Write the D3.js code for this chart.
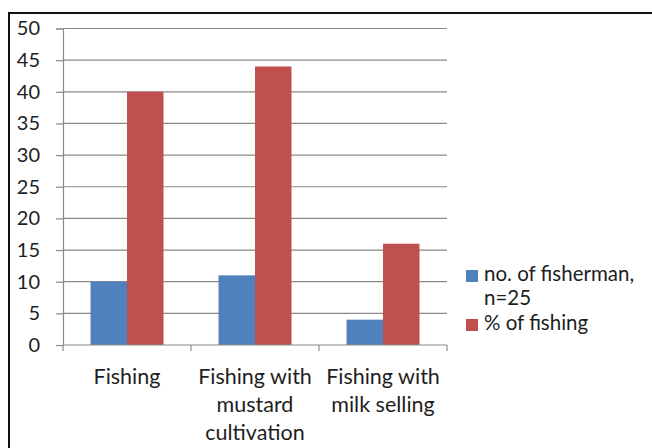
<!DOCTYPE html>
<html>
<head>
<meta charset="utf-8">
<script src="https://cdn.jsdelivr.net/npm/d3@7"></script>
<style>
  html, body { margin: 0; padding: 0; background: #fff; }
  svg { display: block; }
  text { font-family: Lato, "Open Sans", sans-serif; fill: #1e1e1e; }
</style>
</head>
<body>
<svg id="chart" width="652" height="448"></svg>
<script>
// Livelihood activities and values for each
const categories = [
  ["Fishing"],
  ["Fishing with", "mustard", "cultivation"],
  ["Fishing with", "milk selling"]
];
const seriesNames = [["no. of fisherman,", "n=25"], ["% of fishing"]];
const fishermen = [10, 11, 4];
const percentFishing = [40, 44, 16];
const yTicks = [0, 5, 10, 15, 20, 25, 30, 35, 40, 45, 50];
const colors = ["#4F81BD", "#C0504D"];

const svg = d3.select("#chart");

// Outer frame
svg.append("rect")
  .attr("x", 9).attr("y", 13)
  .attr("width", 652).attr("height", 448)
  .attr("fill", "none").attr("stroke", "#111").attr("stroke-width", 2);

const plot = { left: 63, right: 447, top: 28.5, bottom: 345 };

const y = d3.scaleLinear().domain([0, 50]).range([plot.bottom, plot.top]);
const x = d3.scaleBand()
  .domain(d3.range(categories.length))
  .range([plot.left, plot.right])
  .padding(0);
const inner = d3.scaleBand()
  .domain([0, 1])
  .range([x.bandwidth() * 0.215, x.bandwidth() * 0.785])
  .padding(0);

// Gridlines
svg.append("g")
  .selectAll("line")
  .data(yTicks.filter(d => d > 0))
  .join("line")
  .attr("x1", plot.left).attr("x2", plot.right)
  .attr("y1", d => y(d)).attr("y2", d => y(d))
  .attr("stroke", "#8a8a8a").attr("stroke-width", 1.2);

// Y axis
const yAxis = d3.axisLeft(y).tickValues(yTicks).tickSize(7).tickPadding(16);
const gy = svg.append("g").attr("transform", `translate(${plot.left},0)`).call(yAxis);
gy.select(".domain").attr("stroke", "#8a8a8a").attr("stroke-width", 1.2);
gy.selectAll(".tick line").attr("stroke", "#8a8a8a").attr("stroke-width", 1.2);
gy.selectAll(".tick text")
  .attr("font-size", 20).attr("font-family", "Lato, sans-serif").attr("fill", "#1e1e1e");

// Bars
const data = categories.map((c, i) => [fishermen[i], percentFishing[i]]);
const groups = svg.append("g").selectAll("g")
  .data(data)
  .join("g")
  .attr("transform", (d, i) => `translate(${x(i)},0)`);
groups.selectAll("rect")
  .data(d => d)
  .join("rect")
  .attr("x", (d, j) => inner(j))
  .attr("width", inner.bandwidth())
  .attr("y", d => y(d))
  .attr("height", d => y(0) - y(d))
  .attr("fill", (d, j) => colors[j]);

// X axis line and boundary ticks
svg.append("line")
  .attr("x1", plot.left).attr("x2", plot.right)
  .attr("y1", plot.bottom).attr("y2", plot.bottom)
  .attr("stroke", "#8a8a8a").attr("stroke-width", 1.2);
svg.append("g").selectAll("line")
  .data(d3.range(categories.length + 1))
  .join("line")
  .attr("x1", i => plot.left + i * x.bandwidth())
  .attr("x2", i => plot.left + i * x.bandwidth())
  .attr("y1", plot.bottom).attr("y2", plot.bottom + 6)
  .attr("stroke", "#8a8a8a").attr("stroke-width", 1.2);

// Category labels
svg.append("g").selectAll("text")
  .data(categories)
  .join("text")
  .attr("text-anchor", "middle")
  .attr("font-size", 21.5)
  .each(function (lines, i) {
    d3.select(this).selectAll("tspan")
      .data(lines)
      .join("tspan")
      .attr("x", x(i) + x.bandwidth() / 2)
      .attr("y", (l, k) => 384 + k * 28)
      .text(l => l);
  });

// Legend
const legend = svg.append("g").attr("transform", "translate(466,0)");
const legendY = [270, 319];
seriesNames.forEach((lines, j) => {
  legend.append("rect")
    .attr("x", 0).attr("y", legendY[j])
    .attr("width", 12).attr("height", 12)
    .attr("fill", colors[j]);
  const t = legend.append("text").attr("font-size", 20.5);
  t.selectAll("tspan")
    .data(lines)
    .join("tspan")
    .attr("x", 18)
    .attr("y", (l, k) => legendY[j] + 11 + k * 24)
    .text(l => l);
});
</script>
</body>
</html>
